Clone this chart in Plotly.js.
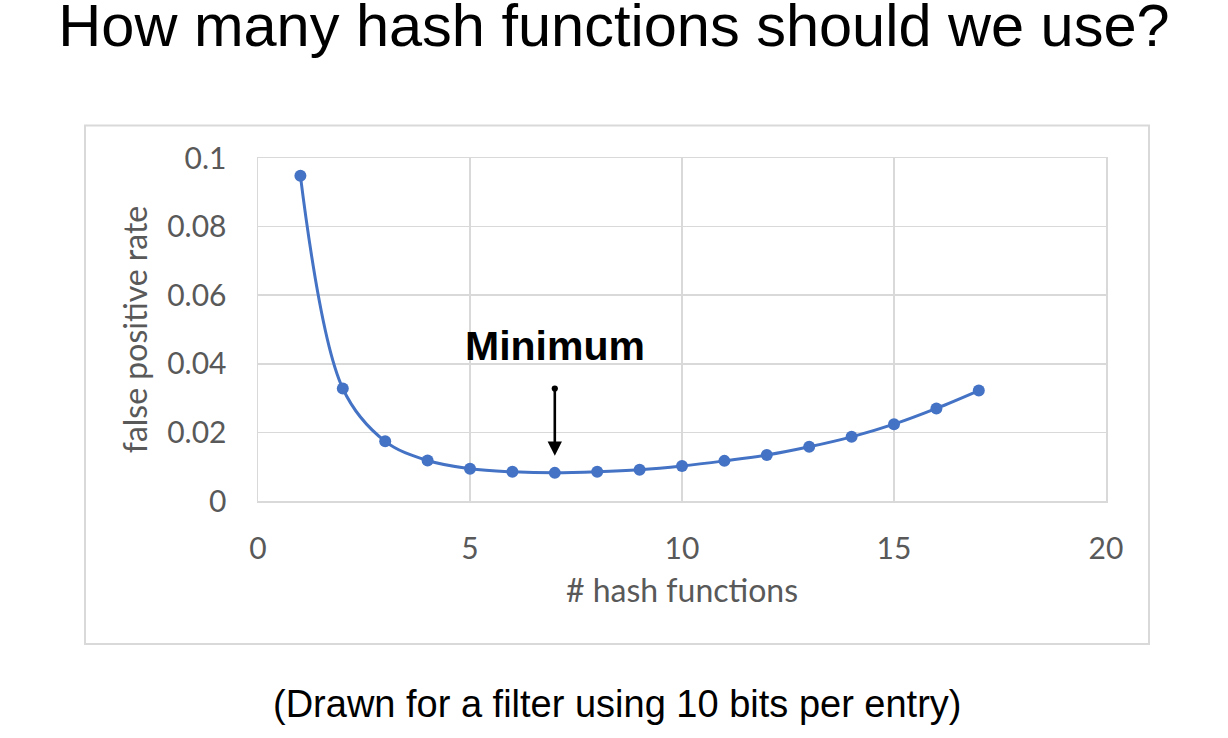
<!DOCTYPE html>
<html>
<head>
<meta charset="utf-8">
<script src="https://cdn.plot.ly/plotly-3.0.1.min.js"></script>
<style>
  html, body { margin: 0; padding: 0; background: #ffffff; }
  #chart { width: 1228px; height: 738px; }
</style>
</head>
<body>
<div id="chart"></div>
<script>
// Data (10 bits per entry)
const hashFunctions = [1, 2, 3, 4, 5, 6, 7, 8, 9, 10, 11, 12, 13, 14, 15, 16, 17];
const falsePositiveRate = [0.0948, 0.0328, 0.0174, 0.0118, 0.0094, 0.0085, 0.0082, 0.0085, 0.0091,
                           0.0102, 0.0117, 0.0134, 0.0158, 0.0187, 0.0224, 0.0270, 0.0322];
const xTickValues = [0, 5, 10, 15, 20];
const yTickValues = [0, 0.02, 0.04, 0.06, 0.08, 0.1];
const yTickLabels = ['0', '0.02', '0.04', '0.06', '0.08', '0.1'];
const minimumK = 7;
const minimumLabel = 'Minimum';
const titleText = 'How many hash functions should we use?';
const captionText = '(Drawn for a filter using 10 bits per entry)';

const gray = '#595959';
const gridColor = '#d9d9d9';
const tickFont = {family: 'Lato, "Open Sans", sans-serif', size: 30, color: gray};
const axisTitleFont = {family: 'Lato, "Open Sans", sans-serif', size: 32, color: gray};

const trace = {
  x: hashFunctions,
  y: falsePositiveRate,
  type: 'scatter',
  mode: 'lines+markers',
  line: {color: '#4472C4', width: 3, shape: 'spline', smoothing: 1},
  marker: {color: '#4472C4', size: 12},
  hoverinfo: 'x+y',
  showlegend: false
};

const minIdx = hashFunctions.indexOf(minimumK);

const layout = {
  width: 1228,
  height: 738,
  paper_bgcolor: '#ffffff',
  plot_bgcolor: '#ffffff',
  margin: {l: 258, r: 122, t: 158, b: 237, pad: 0},
  title: {
    text: titleText,
    font: {family: '"Liberation Sans", Arial, sans-serif', size: 59.5, color: '#000000'},
    xref: 'container', x: 0.5, xanchor: 'center',
    yref: 'container', y: 0.966, yanchor: 'middle'
  },
  xaxis: {
    range: [0, 20],
    tickvals: xTickValues,
    ticktext: xTickValues.map(String),
    tickfont: tickFont,
    ticks: '',
    ticklabelstandoff: 20,
    showgrid: true,
    gridcolor: gridColor,
    gridwidth: 1.5,
    zeroline: false,
    showline: true,
    mirror: true,
    linecolor: gridColor,
    linewidth: 1.5,
    fixedrange: true,
    title: {
      text: '# hash functions',
      font: axisTitleFont,
      standoff: 16
    }
  },
  yaxis: {
    range: [0, 0.1],
    tickvals: yTickValues,
    ticktext: yTickLabels,
    tickfont: tickFont,
    ticks: '',
    ticklabelstandoff: 24,
    showgrid: true,
    gridcolor: gridColor,
    gridwidth: 1.5,
    zeroline: false,
    showline: true,
    mirror: true,
    linecolor: gridColor,
    linewidth: 1.5,
    fixedrange: true,
    title: {
      text: 'false positive rate',
      font: axisTitleFont,
      standoff: 10
    }
  },
  shapes: [{
    type: 'rect',
    xref: 'paper', yref: 'paper',
    x0: -0.204, x1: 1.0507, y0: -0.417, y1: 1.0948,
    line: {color: '#d9d9d9', width: 2},
    fillcolor: 'rgba(0,0,0,0)',
    layer: 'below'
  }],
  annotations: [
    {
      x: minimumK, y: 0.0452, xref: 'x', yref: 'y',
      text: '<b>' + minimumLabel + '</b>',
      showarrow: false,
      font: {family: '"Liberation Sans", Arial, sans-serif', size: 41, color: '#000000'},
      xanchor: 'center', yanchor: 'middle'
    },
    {
      x: minimumK, y: falsePositiveRate[minIdx] + 0.0050,
      xref: 'x', yref: 'y',
      ax: minimumK, ay: 0.0332, axref: 'x', ayref: 'y',
      text: '',
      showarrow: true,
      arrowhead: 2,
      arrowsize: 1.1,
      arrowwidth: 2.6,
      arrowcolor: '#000000',
      arrowside: 'end+start',
      startarrowhead: 6,
      startarrowsize: 0.6,
      standoff: 0,
      startstandoff: 0
    },
    {
      xref: 'paper', yref: 'paper',
      x: 0.4245, y: -0.593,
      text: captionText,
      showarrow: false,
      font: {family: '"Liberation Sans", Arial, sans-serif', size: 38, color: '#000000'},
      xanchor: 'center', yanchor: 'middle'
    }
  ]
};

Plotly.newPlot('chart', [trace], layout, {displayModeBar: false, staticPlot: true});
</script>
</body>
</html>
